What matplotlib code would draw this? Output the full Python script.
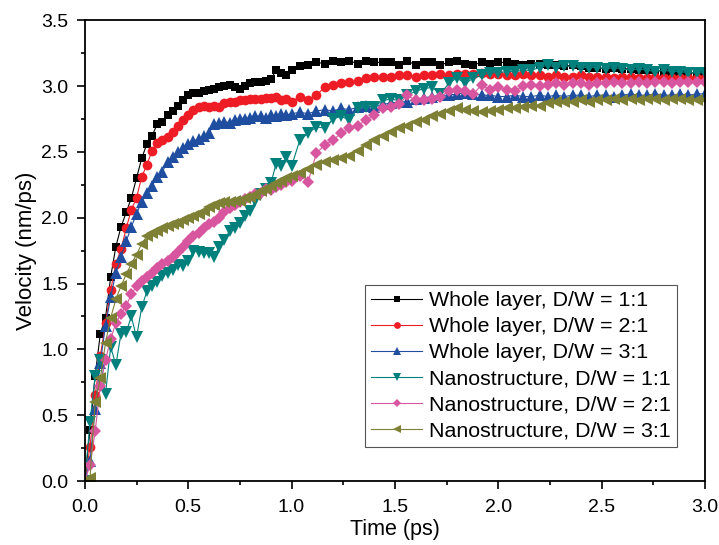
import numpy as np
import matplotlib
matplotlib.use("Agg")
import matplotlib.pyplot as plt
from matplotlib.ticker import MultipleLocator

plt.rcParams['font.family'] = ['Liberation Sans', 'DejaVu Sans']

# sampling grid: dense up to 1 ps, coarser afterwards
time = np.concatenate([np.round(np.arange(41) * 0.025, 3),
                       np.round(1.04 + np.arange(50) * 0.04, 3)])

whole_11 = [0.00, 0.39, 0.80, 1.12, 1.24, 1.55, 1.78, 1.93, 2.04, 2.15,
            2.30, 2.45, 2.56, 2.62, 2.71, 2.73, 2.78, 2.81, 2.85, 2.89,
            2.93, 2.95, 2.95, 2.96, 2.97, 2.98, 2.99, 3.00, 3.01, 2.99,
            2.98, 3.00, 3.02, 3.03, 3.03, 3.04, 3.05, 3.12, 3.10, 3.08,
            3.12,
            3.15, 3.16, 3.18, 3.17, 3.19, 3.18, 3.19, 3.17, 3.19, 3.18,
            3.18, 3.18, 3.16, 3.19, 3.16, 3.18, 3.18, 3.16, 3.18, 3.19,
            3.17, 3.16, 3.18, 3.17, 3.18, 3.18, 3.17, 3.16, 3.17, 3.17,
            3.16, 3.16, 3.15, 3.16, 3.15, 3.14, 3.14, 3.13, 3.14, 3.13,
            3.13, 3.12, 3.12, 3.12, 3.11, 3.11, 3.11, 3.10, 3.10, 3.10]

whole_21 = [0.00, 0.26, 0.65, 0.95, 1.20, 1.45, 1.65, 1.76, 1.92, 2.06,
            2.15, 2.31, 2.40, 2.51, 2.57, 2.59, 2.61, 2.65, 2.70, 2.74,
            2.78, 2.82, 2.84, 2.85, 2.84, 2.85, 2.84, 2.87, 2.88, 2.88,
            2.89, 2.89, 2.90, 2.90, 2.90, 2.91, 2.91, 2.92, 2.89, 2.90,
            2.88,
            2.92, 2.89, 2.93, 2.99, 3.01, 3.02, 3.03, 3.04, 3.06, 3.07,
            3.07, 3.07, 3.08, 3.08, 3.07, 3.08, 3.08, 3.09, 3.08, 3.09,
            3.09, 3.09, 3.10, 3.09, 3.09, 3.08, 3.08, 3.09, 3.08, 3.08,
            3.07, 3.08, 3.07, 3.07, 3.08, 3.07, 3.07, 3.07, 3.06, 3.07,
            3.07, 3.06, 3.06, 3.07, 3.06, 3.06, 3.06, 3.06, 3.06, 3.06]

whole_31 = [0.00, 0.15, 0.55, 0.90, 1.18, 1.40, 1.58, 1.70, 1.82, 1.93,
            2.03, 2.12, 2.19, 2.24, 2.31, 2.35, 2.42, 2.46, 2.50, 2.53,
            2.56, 2.58, 2.60, 2.62, 2.64, 2.71, 2.72, 2.73, 2.72, 2.74,
            2.75, 2.75, 2.76, 2.77, 2.77, 2.76, 2.78, 2.77, 2.79, 2.78,
            2.79,
            2.80, 2.79, 2.81, 2.82, 2.81, 2.83, 2.82, 2.84, 2.85, 2.84,
            2.86, 2.87, 2.88, 2.88, 2.90, 2.91, 2.92, 2.93, 2.93, 2.94,
            2.95, 2.94, 2.93, 2.93, 2.92, 2.92, 2.93, 2.92, 2.92, 2.93,
            2.92, 2.93, 2.92, 2.93, 2.93, 2.92, 2.93, 2.93, 2.92, 2.93,
            2.94, 2.93, 2.93, 2.94, 2.93, 2.93, 2.94, 2.93, 2.94, 2.94]

nano_11 = [0.00, 0.45, 0.80, 0.92, 0.66, 1.02, 0.88, 1.12, 1.13, 1.25,
           1.09, 1.32, 1.44, 1.48, 1.51, 1.56, 1.58, 1.60, 1.64, 1.63,
           1.67, 1.75, 1.74, 1.73, 1.73, 1.70, 1.78, 1.83, 1.90, 1.92,
           1.96, 2.01, 2.05, 2.13, 2.18, 2.22, 2.26, 2.41, 2.39, 2.46,
           2.39,
           2.59, 2.64, 2.69, 2.68, 2.75, 2.77, 2.74, 2.83, 2.84, 2.84,
           2.89, 2.90, 2.89, 2.93, 2.96, 2.98, 2.99, 2.94, 3.02, 3.06,
           3.02, 3.06, 3.08, 3.10, 3.10, 3.11, 3.11, 3.12, 3.12, 3.14,
           3.16, 3.14, 3.15, 3.15, 3.14, 3.14, 3.14, 3.13, 3.14, 3.13,
           3.12, 3.13, 3.12, 3.11, 3.12, 3.11, 3.11, 3.10, 3.10, 3.10]

nano_21 = [0.00, 0.12, 0.38, 0.72, 0.92, 1.08, 1.20, 1.27, 1.33, 1.42,
           1.48, 1.52, 1.55, 1.58, 1.62, 1.65, 1.67, 1.70, 1.74, 1.78,
           1.82, 1.86, 1.88, 1.92, 1.95, 1.97, 2.00, 2.04, 2.07, 2.10,
           2.12, 2.14, 2.16, 2.18, 2.19, 2.22, 2.21, 2.23, 2.25, 2.27,
           2.28,
           2.32, 2.27, 2.49, 2.55, 2.59, 2.64, 2.68, 2.70, 2.74, 2.78,
           2.83, 2.84, 2.86, 2.93, 2.89, 2.89, 2.90, 2.92, 2.96, 2.97,
           2.96, 2.94, 3.01, 2.97, 2.99, 2.97, 2.96, 3.00, 3.01, 3.00,
           3.01, 3.02, 3.01, 3.02, 3.02, 3.01, 3.02, 3.02, 3.03, 3.02,
           3.02, 3.03, 3.02, 3.03, 3.03, 3.02, 3.03, 3.03, 3.03, 3.03]

nano_31 = [0.00, 0.02, 0.60, 0.78, 1.05, 1.24, 1.38, 1.48, 1.57, 1.65,
           1.72, 1.80, 1.86, 1.88, 1.90, 1.92, 1.94, 1.95, 1.96, 1.98,
           2.00, 2.01, 2.03, 2.05, 2.08, 2.10, 2.11, 2.12, 2.12, 2.13,
           2.13, 2.15, 2.16, 2.17, 2.20, 2.22, 2.24, 2.26, 2.28, 2.30,
           2.32,
           2.34, 2.37, 2.40, 2.42, 2.44, 2.45, 2.47, 2.51, 2.55, 2.59,
           2.62, 2.65, 2.68, 2.70, 2.73, 2.74, 2.77, 2.79, 2.81, 2.83,
           2.82, 2.81, 2.80, 2.81, 2.82, 2.83, 2.83, 2.84, 2.85, 2.85,
           2.87, 2.88, 2.88, 2.88, 2.89, 2.88, 2.89, 2.89, 2.90, 2.89,
           2.90, 2.89, 2.90, 2.90, 2.89, 2.90, 2.90, 2.89, 2.89, 2.89]

labels = ['Whole layer, D/W = 1:1', 'Whole layer, D/W = 2:1',
          'Whole layer, D/W = 3:1', 'Nanostructure, D/W = 1:1',
          'Nanostructure, D/W = 2:1', 'Nanostructure, D/W = 3:1']
series = [whole_11, whole_21, whole_31, nano_11, nano_21, nano_31]
colors = ['#000000', '#ee1d25', '#1f4ea1', '#00807c', '#d8559f', '#7e8135']
markers = ['s', 'o', '^', 'v', 'D', '<']
sizes = [6.3, 7, 8, 8, 6.3, 8]

fig = plt.figure(figsize=(7.19, 5.45), dpi=100)
ax = fig.add_axes([0.118, 0.1174, 0.8625, 0.8456])

for vals, lab, c, m, s in zip(series, labels, colors, markers, sizes):
    ax.plot(time, vals, color=c, marker=m, markersize=s, lw=0.8,
            markeredgewidth=0, label=lab)

ax.set_xlim(0, 3.0)
ax.set_ylim(0, 3.5)
ax.xaxis.set_major_locator(MultipleLocator(0.5))
ax.xaxis.set_minor_locator(MultipleLocator(0.25))
ax.yaxis.set_major_locator(MultipleLocator(0.5))
ax.yaxis.set_minor_locator(MultipleLocator(0.25))
ax.xaxis.set_major_formatter(plt.FormatStrFormatter('%.1f'))
ax.yaxis.set_major_formatter(plt.FormatStrFormatter('%.1f'))
ax.tick_params(which='both', direction='out', top=False, right=False,
               labelsize=14, width=1.2)
ax.tick_params(which='major', length=6)
ax.tick_params(which='minor', length=3)
ax.tick_params(axis='x', pad=7)
ax.tick_params(axis='y', pad=6)
for sp in ax.spines.values():
    sp.set_linewidth(1.3)

ax.set_xlabel('Time (ps)', fontsize=15.5, labelpad=2)
ax.set_ylabel('Velocity (nm/ps)', fontsize=16, labelpad=3)

leg = ax.legend(loc='lower right', bbox_to_anchor=(0.955, 0.074),
                borderaxespad=0, fontsize=15.4, markerscale=0.7,
                handlelength=2.4, fancybox=False, edgecolor='#555555',
                framealpha=1, labelspacing=0.33, borderpad=0.3,
                handletextpad=0.3)
leg.get_frame().set_linewidth(0.8)

fig.savefig('out.png', dpi=100)
